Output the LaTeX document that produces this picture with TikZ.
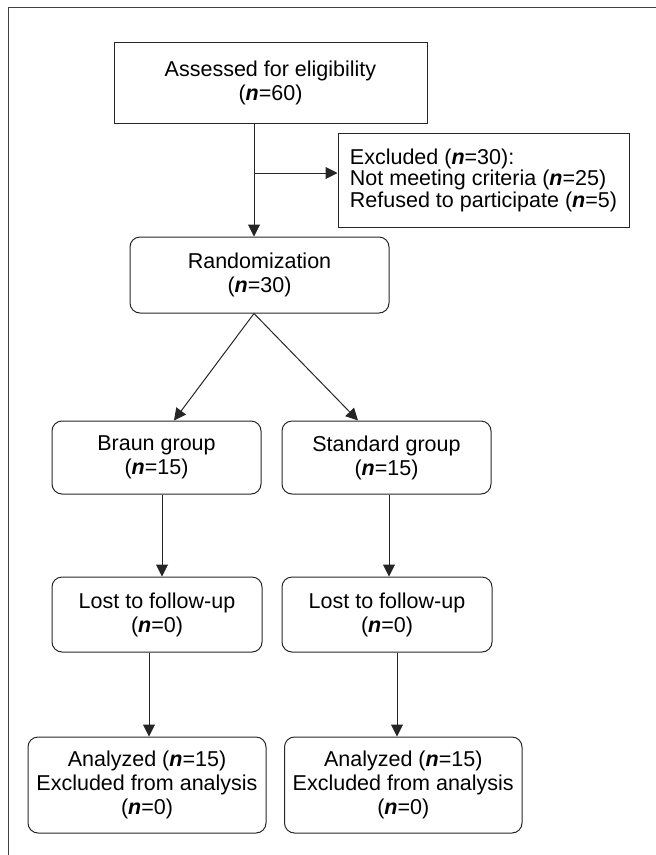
\documentclass[tikz,border=0pt]{standalone}
\usepackage{fontspec}
\setmainfont{Liberation Sans}
\usetikzlibrary{arrows.meta,calc}
\newcommand{\nvar}{\textbf{\textit{n}}}
\begin{document}
\begin{tikzpicture}[x=1pt,y=-1pt,
  font=\fontsize{21.5}{24}\selectfont,
  sqbox/.style={draw=black!85,line width=1pt,inner sep=0pt,align=center},
  rbox/.style={sqbox,rounded corners=10pt},
  arr/.style={draw=black!85,line width=1pt,-{Triangle[length=12pt,width=12pt]}}]
\useasboundingbox (0,0) rectangle (656,855);
%Frame
\draw[black!75,line width=1.6pt] (8.5,855) -- (8.5,7.5) -- (656,7.5);

%Shape: Rectangle
\node[sqbox,minimum width=313,minimum height=81] (assess) at (270.5,82.5) {Assessed for eligibility\\(\nvar=60)};
%Shape: Rectangle
\node[sqbox,align=left,minimum width=291,minimum height=94,font=\fontsize{21.5}{21.5}\selectfont] (excl) at (483.5,180)
  {Excluded (\nvar=30):\\Not meeting criteria (\nvar=25)\\Refused to participate (\nvar=5)};
%Shape: Rounded rectangles
\node[rbox,minimum width=259,minimum height=76] (rand) at (259.5,275) {Randomization\\(\nvar=30)};
\node[rbox,minimum width=209,minimum height=73] (braun) at (156.5,457.5) {Braun group\\(\nvar=15)};
\node[rbox,minimum width=209,minimum height=73] (std) at (386.5,457.5) {Standard group\\(\nvar=15)};
\node[rbox,minimum width=210,minimum height=75] (lost1) at (157,614.5) {Lost to follow-up\\(\nvar=0)};
\node[rbox,minimum width=210,minimum height=75] (lost2) at (387,614.5) {Lost to follow-up\\(\nvar=0)};
\node[rbox,minimum width=238,minimum height=96] (anal1) at (147,785) {Analyzed (\nvar=15)\\Excluded from analysis\\(\nvar=0)};
\node[rbox,minimum width=237.5,minimum height=96] (anal2) at (403.25,785) {Analyzed (\nvar=15)\\Excluded from analysis\\(\nvar=0)};

%Arrows
\coordinate (split) at (254,173);
\draw[arr] (assess.south -| split) -- (rand.north -| split);
\draw[arr] (split) -- (excl.west |- split);
\draw[arr] (rand.south -| split) -- ($(braun.north)+(17.5,0)$);
\draw[arr] (rand.south -| split) -- ($(std.north)+(-28.5,0)$);
\draw[arr] ([xshift=5.5]braun.south) -- ([xshift=5.5]braun.south |- lost1.north);
\draw[arr] ([xshift=2.5]std.south) -- ([xshift=2.5]std.south |- lost2.north);
\draw[arr] ([xshift=-8]lost1.south) -- ([xshift=-8]lost1.south |- anal1.north);
\draw[arr] ([xshift=10]lost2.south) -- ([xshift=10]lost2.south |- anal2.north);

\end{tikzpicture}
\end{document}
